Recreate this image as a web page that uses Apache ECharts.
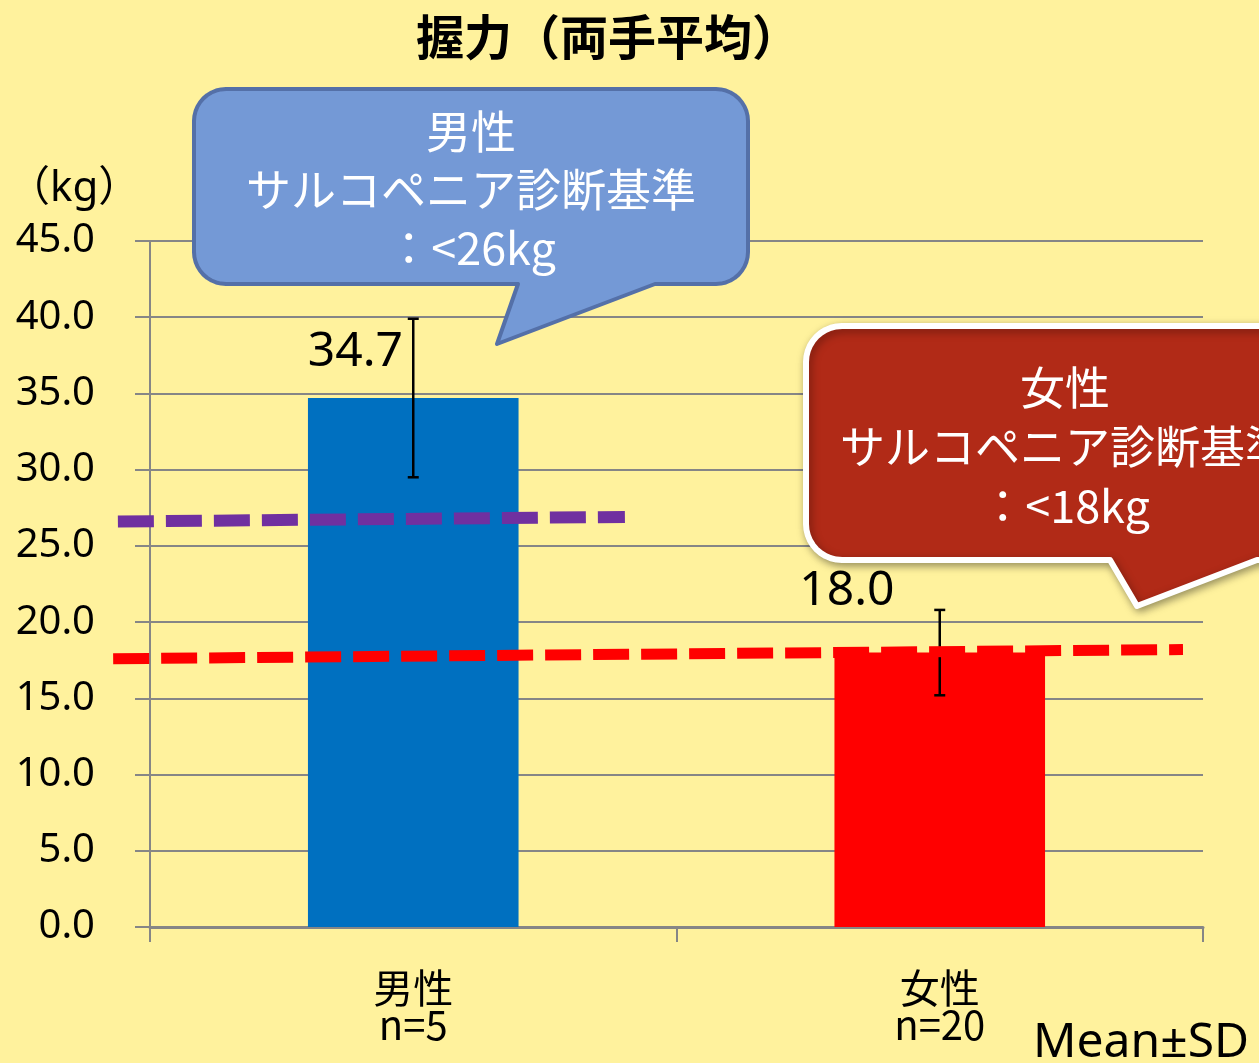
<!DOCTYPE html>
<html>
<head>
<meta charset="utf-8">
<title>握力（両手平均）</title>
<script src="https://cdn.jsdelivr.net/npm/echarts@6/dist/echarts.min.js"></script>
<style>
  html, body { margin: 0; padding: 0; background: #FFF29D; }
  #chart { width: 1259px; height: 1063px; }
</style>
</head>
<body>
<div id="chart"></div>
<script>
// Grip strength (mean of both hands) by sex
const categories = ['男性', '女性'];
const sampleSizes = ['n=5', 'n=20'];
const means = [34.7, 18.0];
const sds = [5.2, 2.8];
const barColors = ['#0070C0', '#FF0000'];

// Sarcopenia cut-off guide lines, hand-drawn across the plot
// (x in category units: male centre = 0, female centre = 1)
const maleCutoffLine = [[-0.561, 26.6], [0.402, 26.9]];
const femaleCutoffLine = [[-0.570, 17.6], [1.462, 18.2]];

const yMin = 0, yMax = 45, yStep = 5;

const titleText = '握力（両手平均）';
const unitText = '（kg）';
const maleNote = ['男性', 'サルコペニア診断基準', '：<26kg'];
const femaleNote = ['女性', 'サルコペニア診断基準', '：<18kg'];
const footText = 'Mean±SD';

const latin = '"Noto Sans", "Noto Sans CJK JP", sans-serif';
const cjk = '"Noto Sans CJK JP", "Noto Sans", sans-serif';

// per-bar value label placement, relative to the bar's top-left corner
const valueLabelOffsets = [[95, -46], [60, -61]];

const errorData = means.map((m, i) => [i, m - sds[i], m + sds[i]]);

// plot area geometry
const plot = { left: 150, right: 56, top: 241, bottom: 136 };
const catWidth = (1259 - plot.left - plot.right) / categories.length;
// guide lines live on an overlay grid that reaches a quarter category further left
const guideMin = -0.75, guideMax = categories.length - 0.5;

// speech-bubble outline: rounded rectangle with a pointer on the bottom edge
function bubblePoints(x0, y0, x1, y1, r, tailA, tip, tailB) {
  const pts = [];
  const arc = (cx, cy, a0, a1) => {
    const n = 10;
    for (let k = 0; k <= n; k++) {
      const a = a0 + (a1 - a0) * k / n;
      pts.push([cx + r * Math.cos(a), cy + r * Math.sin(a)]);
    }
  };
  arc(x0 + r, y0 + r, Math.PI, 1.5 * Math.PI);      // top-left
  arc(x1 - r, y0 + r, 1.5 * Math.PI, 2 * Math.PI);  // top-right
  arc(x1 - r, y1 - r, 0, 0.5 * Math.PI);            // bottom-right
  pts.push([tailB, y1], tip, [tailA, y1]);
  arc(x0 + r, y1 - r, 0.5 * Math.PI, Math.PI);      // bottom-left
  return pts;
}

function noteText(lines, cx, cy0, step) {
  return lines.map((t, i) => ({
    type: 'text', z: 102,
    x: cx, y: cy0 + i * step,
    style: {
      text: t, x: 0, y: 0,
      align: 'center', verticalAlign: 'middle',
      fill: '#FFFFFF', font: '45px ' + cjk
    }
  }));
}

const chart = echarts.init(document.getElementById('chart'), null, { renderer: 'canvas' });

chart.setOption({
  backgroundColor: '#FFF29D',
  animation: false,
  title: {
    text: titleText,
    left: 416, top: 13, padding: 0,
    textStyle: { fontFamily: cjk, fontSize: 48, fontWeight: 'bold', color: '#000' }
  },
  grid: [
    { left: plot.left, right: plot.right, top: plot.top, bottom: plot.bottom, containLabel: false },
    {
      left: plot.left - (0 - guideMin - 0.5) * catWidth, right: plot.right,
      top: plot.top, bottom: plot.bottom, containLabel: false
    }
  ],
  xAxis: [{
    type: 'category',
    gridIndex: 0,
    data: categories,
    axisLine: { lineStyle: { color: '#868686', width: 3 } },
    axisTick: { show: true, length: 15, lineStyle: { color: '#868686', width: 2 } },
    axisLabel: {
      margin: 42,
      fontFamily: cjk, fontSize: 40, lineHeight: 37, color: '#000',
      formatter: (v, i) => v + '\n' + sampleSizes[i]
    }
  }, {
    type: 'value', gridIndex: 1, min: guideMin, max: guideMax, show: false
  }],
  yAxis: [{
    type: 'value', gridIndex: 0, min: yMin, max: yMax, interval: yStep,
    axisLine: { show: true, lineStyle: { color: '#868686', width: 2 } },
    axisTick: { show: true, length: 15, lineStyle: { color: '#868686', width: 2 } },
    splitLine: { show: true, lineStyle: { color: '#868686', width: 2 } },
    axisLabel: {
      margin: 55, fontFamily: latin, fontSize: 40, color: '#000',
      formatter: v => v.toFixed(1)
    }
  }, {
    type: 'value', gridIndex: 1, min: yMin, max: yMax, show: false
  }],
  series: [{
    type: 'bar',
    barWidth: '40%',
    z: 2,
    data: means.map((m, i) => ({
      value: m,
      itemStyle: { color: barColors[i] },
      label: {
        show: true,
        position: valueLabelOffsets[i],
        align: 'right', verticalAlign: 'middle',
        fontFamily: latin, fontSize: 48, color: '#000',
        formatter: p => p.value.toFixed(1)
      }
    }))
  }, {
    type: 'custom',
    z: 3,
    data: errorData,
    renderItem: (params, api) => {
      const x = api.value(0);
      const lo = api.coord([x, api.value(1)]);
      const hi = api.coord([x, api.value(2)]);
      const cap = 5.5;
      const st = { stroke: '#000', lineWidth: 2.5 };
      return {
        type: 'group',
        children: [
          { type: 'line', shape: { x1: hi[0], y1: hi[1], x2: lo[0], y2: lo[1] }, style: st },
          { type: 'line', shape: { x1: hi[0] - cap, y1: hi[1], x2: hi[0] + cap, y2: hi[1] }, style: st },
          { type: 'line', shape: { x1: lo[0] - cap, y1: lo[1], x2: lo[0] + cap, y2: lo[1] }, style: st }
        ]
      };
    }
  }, {
    type: 'line',
    xAxisIndex: 1, yAxisIndex: 1,
    z: 4,
    clip: false,
    symbol: 'none',
    data: maleCutoffLine,
    lineStyle: { color: '#7030A0', width: 12, type: [36, 12], cap: 'butt' }
  }, {
    type: 'line',
    xAxisIndex: 1, yAxisIndex: 1,
    z: 4,
    clip: false,
    symbol: 'none',
    data: femaleCutoffLine,
    lineStyle: { color: '#FF0000', width: 11, type: [36, 12], cap: 'butt' }
  }],
  graphic: [
    {
      type: 'text', x: 8, y: 168,
      style: { text: unitText, font: '42px ' + latin, fill: '#000' }
    },
    {
      type: 'text', x: 1033, y: 1019,
      style: { text: footText, font: '48px ' + latin, fill: '#000' }
    },
    {
      type: 'polygon', z: 100,
      shape: { points: bubblePoints(194, 89, 748, 284, 32, 518, [497, 344], 655) },
      style: { fill: '#7499D6', stroke: '#5470A8', lineWidth: 4, lineJoin: 'round' }
    },
    ...noteText(maleNote, 471, 132, 58),
    {
      type: 'polygon', z: 100,
      shape: { points: bubblePoints(806, 326, 1325, 560, 36, 1110, [1137, 606], 1257) },
      style: {
        fill: '#B12A17', stroke: '#FFFFFF', lineWidth: 6, lineJoin: 'round',
        shadowBlur: 8, shadowColor: 'rgba(0,0,0,0.35)', shadowOffsetX: 2, shadowOffsetY: 3
      }
    },
    ...noteText(femaleNote, 1065, 388, 59)
  ]
});
</script>
</body>
</html>
